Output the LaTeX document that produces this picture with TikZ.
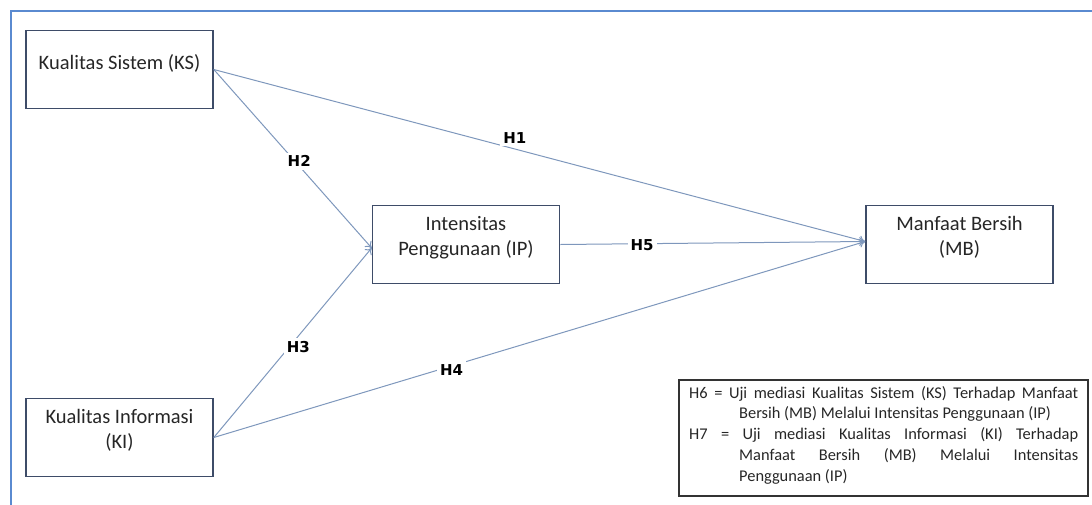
\documentclass[tikz,border=0pt]{standalone}
\usepackage{fontspec}
\setmainfont{Carlito}
\newfontfamily\labfont{DejaVu Sans}
\usetikzlibrary{arrows.meta}
\definecolor{frameblue}{HTML}{5A8AD0}
\definecolor{boxedge}{HTML}{3E4C68}
\definecolor{linecol}{HTML}{7E97BC}
\definecolor{txtcol}{HTML}{262626}
\tikzset{
  var/.style={draw=boxedge, line width=1.6pt, minimum width=187pt, minimum height=78pt, inner sep=0pt},
  boxtxt/.style={font=\fontsize{20.5}{25}\selectfont, text=txtcol, align=center, inner sep=0pt},
  conn/.style={draw=linecol, line width=1pt, -{To[length=6pt,width=9pt]}},
  hlab/.style={font=\labfont\bfseries\fontsize{15}{17}\selectfont, text=black, fill=white, inner sep=3pt}
}
\begin{document}
\begin{tikzpicture}[x=1pt,y=-1pt]
\useasboundingbox (0,0) rectangle (1092,504);
% outer frame (only left and top edges visible)
\draw[frameblue, line width=2pt] (10.5,510) -- (10.5,10.5) -- (1100,10.5);

% boxes
\node[var] (KS) at (119.5,69.5) {};
\node[var] (KI) at (119.5,437.5) {};
\node[var] (IP) at (466,244.5) {};
\node[var] (MB) at (959.5,244.5) {};

% box texts
\node[boxtxt] (tKS) at (119.5,63.5) {Kualitas Sistem (KS)};
\node[boxtxt] (tKI) at (119.5,430.5) {Kualitas Informasi\\(KI)};
\node[boxtxt] (tIP) at (466,238) {Intensitas\\Penggunaan (IP)};
\node[boxtxt] (tMB) at (959.5,237.5) {Manfaat Bersih\\(MB)};

% target points
\coordinate (IPin) at ([yshift=-3.5pt]IP.west);
\coordinate (MBin) at ([yshift=3pt]MB.west);

% connectors
\draw[conn] (KS.east) -- (MBin) node[hlab, pos=0.462, yshift=11pt] (H1) {H1};
\draw[conn] (KS.east) -- (IPin) node[hlab, pos=0.541, yshift=5pt] (H2) {H2};
\draw[conn] (KI.east) -- (IPin) node[hlab, pos=0.535, yshift=-11pt] (H3) {H3};
\draw[conn] (KI.east) -- (MBin) node[hlab, pos=0.365, yshift=-4pt] (H4) {H4};
\draw[conn] (IP.east) -- (MBin) node[hlab, pos=0.268, yshift=-1pt] (H5) {H5};

% legend
\node[draw=black!80, line width=1.3pt, minimum width=409pt, minimum height=116pt, inner sep=0pt] (LG) at (883.5,438) {};
\node[anchor=base west, inner sep=0pt, text=txtcol] (LGt) at (689,398) {\parbox[t]{389pt}{\fontsize{16.4}{20.8}\selectfont
\hangindent=50pt\hangafter=1 H6 = Uji mediasi Kualitas Sistem (KS) Terhadap Manfaat\linebreak Bersih (MB) Melalui Intensitas Penggunaan (IP)\par
\hangindent=50pt\hangafter=1 H7 = Uji mediasi Kualitas Informasi (KI) Terhadap\linebreak Manfaat Bersih (MB) Melalui Intensitas\linebreak Penggunaan (IP)\par}};
\end{tikzpicture}
\end{document}
